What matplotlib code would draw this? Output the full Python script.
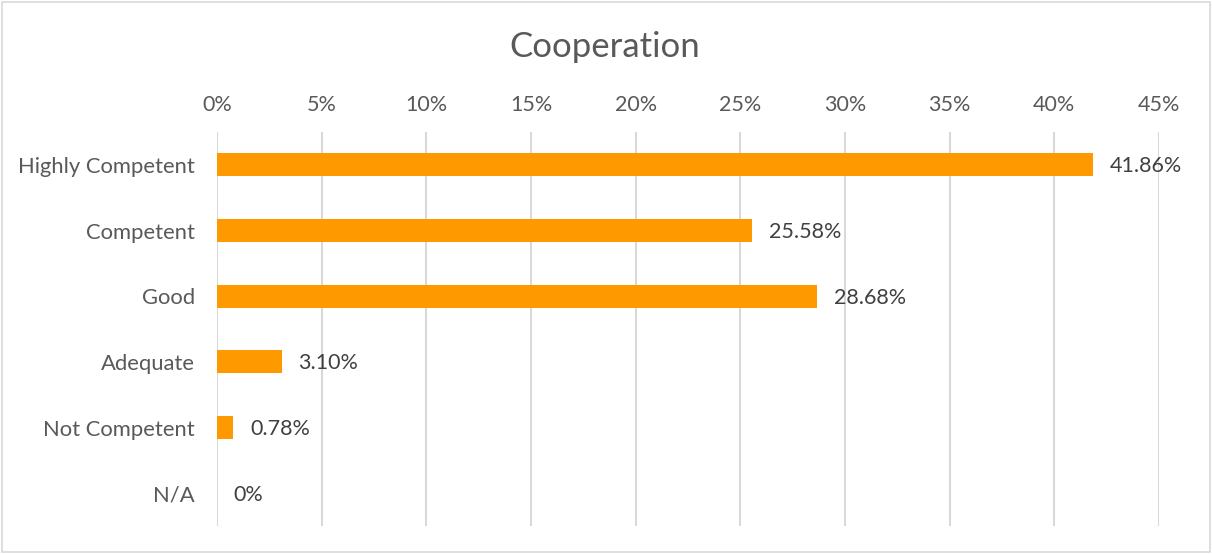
import numpy as np
import matplotlib.pyplot as plt
from matplotlib.ticker import FuncFormatter
from matplotlib.patches import Rectangle

categories = ["Highly Competent", "Competent", "Good", "Adequate", "Not Competent", "N/A"]
values = [41.86, 25.58, 28.68, 3.10, 0.78, 0]
value_labels = ["41.86%", "25.58%", "28.68%", "3.10%", "0.78%", "0%"]
ticks = [0, 5, 10, 15, 20, 25, 30, 35, 40, 45]

plt.rcParams['font.family'] = ['Lato', 'DejaVu Sans']
text_color = "#595959"
bar_color = "#FF9900"

fig = plt.figure(figsize=(12.12, 5.54), dpi=100)
ax = fig.add_axes([217 / 1212, 28 / 554, (1159 - 217) / 1212, (526 - 132) / 554])

y = np.arange(len(categories))
ax.barh(y, values, height=0.35, color=bar_color, zorder=3)
ax.set_ylim(len(categories) - 0.5, -0.5)
ax.set_xlim(0, 45)

ax.set_xticks(ticks)
ax.xaxis.set_major_formatter(FuncFormatter(lambda v, p: f"{v:.0f}%"))
ax.xaxis.tick_top()
ax.tick_params(axis='x', length=0, pad=12, labelsize=15.5, labelcolor=text_color)
ax.set_yticks(y)
ax.set_yticklabels(categories)
ax.tick_params(axis='y', length=0, pad=16, labelsize=15.8, labelcolor=text_color)

ax.grid(axis='x', color="#D9D9D9", linewidth=1.5, zorder=0)
for s in ax.spines.values():
    s.set_visible(False)

for yi, v, lab in zip(y, values, value_labels):
    ax.annotate(lab, (v, yi), xytext=(12, -1), textcoords='offset points',
                va='center', ha='left', fontsize=15.5, color="#404040")

fig.text(605 / 1212, 1 - 47 / 554, "Cooperation", ha='center', va='center',
         fontsize=25, color=text_color)

fig.patches.append(Rectangle((0.002, 0.003), 0.996, 0.994, transform=fig.transFigure,
                             fill=False, edgecolor="#D9D9D9", linewidth=1.2))

fig.savefig("out.png", dpi=100)
